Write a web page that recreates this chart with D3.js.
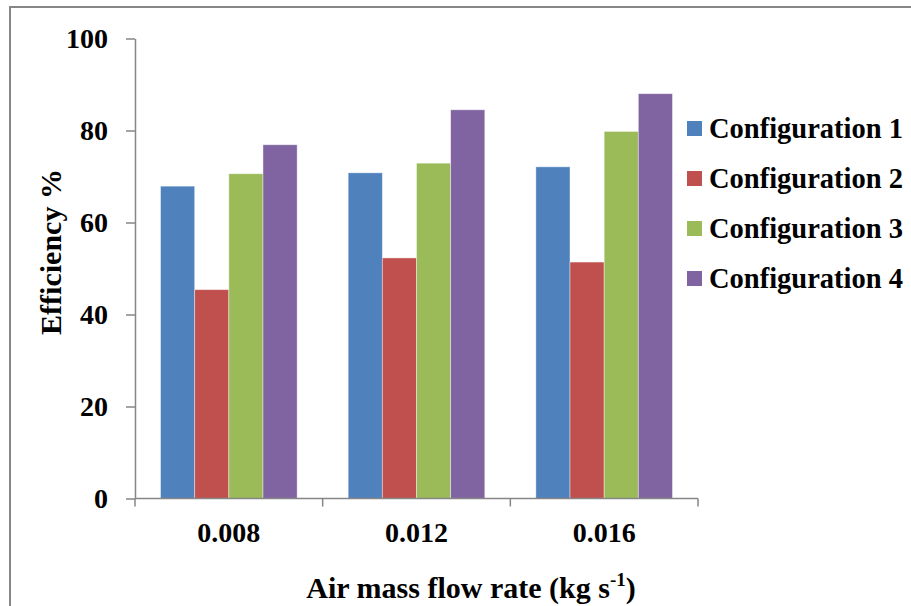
<!DOCTYPE html>
<html>
<head>
<meta charset="utf-8">
<script src="https://cdn.jsdelivr.net/npm/d3@7"></script>
</head>
<body style="margin:0; background:#fff">
<div id="chart"></div>
<script>
// chart data
var flowRates = ["0.008", "0.012", "0.016"];
var configs = ["Configuration 1", "Configuration 2", "Configuration 3", "Configuration 4"];
var config1 = [67.9, 70.8, 72.1];
var config2 = [45.4, 52.3, 51.4];
var config3 = [70.6, 72.9, 79.8];
var config4 = [76.9, 84.5, 88.0];
var yTicks = [0, 20, 40, 60, 80, 100];
var colors = ["#4F81BD", "#C0504D", "#9BBB59", "#8064A2"];

var series = [config1, config2, config3, config4];

var width = 911;
var height = 606;
var plot = {left: 135, right: 698, top: 38.5, bottom: 498.5};
var serif = "'Liberation Serif'";

const svg = d3.select("#chart")
  .append("svg")
  .attr("width", width)
  .attr("height", height);

// outer chart border (runs past the right and bottom edge)
svg.append("rect")
  .attr("x", 10).attr("y", 7)
  .attr("width", 960).attr("height", 700)
  .attr("fill", "none")
  .attr("stroke", "#868686")
  .attr("stroke-width", 2);

// scales
var x0 = d3.scaleBand()
  .domain(flowRates)
  .range([plot.left, plot.right])
  .paddingInner(0.272)
  .paddingOuter(0.136);

var outer = d3.scaleBand()
  .domain(flowRates)
  .range([plot.left, plot.right]);

var x1 = d3.scaleBand()
  .domain(configs)
  .range([0, x0.bandwidth()]);

var y = d3.scaleLinear()
  .domain([0, 100])
  .range([plot.bottom, plot.top]);

// bars
var groups = svg.selectAll("g.group")
  .data(flowRates)
  .enter()
  .append("g")
  .attr("class", "group")
  .attr("transform", (d) => "translate(" + x0(d) + ",0)");

groups.selectAll("rect")
  .data((d, i) => configs.map((c, j) => ({config: c, value: series[j][i], color: colors[j]})))
  .enter()
  .append("rect")
  .attr("x", (d) => x1(d.config))
  .attr("y", (d) => y(d.value))
  .attr("width", x1.bandwidth())
  .attr("height", (d) => plot.bottom - y(d.value))
  .attr("fill", (d) => d.color)
  .attr("stroke", "#ffffff")
  .attr("stroke-opacity", 0.5)
  .attr("stroke-width", 0.8);

// y axis
var yAxis = svg.append("g")
  .attr("transform", "translate(" + plot.left + ",0)")
  .call(d3.axisLeft(y).tickValues(yTicks).tickSize(9).tickPadding(18).tickSizeOuter(0));

yAxis.attr("font-family", serif).attr("font-weight", "bold").attr("font-size", 28);
yAxis.select(".domain").attr("stroke", "#868686").attr("stroke-width", 1.5);
yAxis.selectAll(".tick line").attr("stroke", "#868686").attr("stroke-width", 1.5);
yAxis.selectAll(".tick text")
  .attr("fill", "#000")
  .attr("dy", "0.33em");

// x axis with ticks at the category boundaries
var xAxis = svg.append("g")
  .attr("transform", "translate(0," + plot.bottom + ")");

xAxis.append("line")
  .attr("x1", plot.left).attr("x2", plot.right)
  .attr("stroke", "#868686").attr("stroke-width", 1.5);

var bounds = flowRates.map((d) => outer(d)).concat([plot.right]);
xAxis.selectAll("line.tick")
  .data(bounds)
  .enter()
  .append("line")
  .attr("class", "tick")
  .attr("x1", (d) => d).attr("x2", (d) => d)
  .attr("y1", 0).attr("y2", 8)
  .attr("stroke", "#868686").attr("stroke-width", 1.5);

xAxis.selectAll("text")
  .data(flowRates)
  .enter()
  .append("text")
  .attr("x", (d) => outer(d) + outer.bandwidth() / 2)
  .attr("y", 43)
  .attr("text-anchor", "middle")
  .attr("font-family", serif)
  .attr("font-weight", "bold")
  .attr("font-size", 28)
  .text((d) => d);

// axis titles
svg.append("text")
  .attr("transform", "translate(61,252) rotate(-90)")
  .attr("text-anchor", "middle")
  .attr("font-family", serif)
  .attr("font-weight", "bold")
  .attr("font-size", 30)
  .text("Efficiency %");

var xTitle = svg.append("text")
  .attr("x", 471)
  .attr("y", 598)
  .attr("text-anchor", "middle")
  .attr("font-family", serif)
  .attr("font-weight", "bold")
  .attr("font-size", 30);
xTitle.append("tspan").text("Air mass flow rate (kg s");
xTitle.append("tspan").attr("dy", -12).attr("font-size", 19).text("-1");
xTitle.append("tspan").attr("dy", 12).text(")");

// legend
var legend = svg.selectAll("g.legend")
  .data(configs)
  .enter()
  .append("g")
  .attr("class", "legend")
  .attr("transform", (d, i) => "translate(687," + (121 + i * 50) + ")");

legend.append("rect")
  .attr("width", 15)
  .attr("height", 15)
  .attr("fill", (d, i) => colors[i]);

legend.append("text")
  .attr("x", 22)
  .attr("y", 17)
  .attr("font-family", serif)
  .attr("font-weight", "bold")
  .attr("font-size", 28.5)
  .text((d) => d);
</script>
</body>
</html>
